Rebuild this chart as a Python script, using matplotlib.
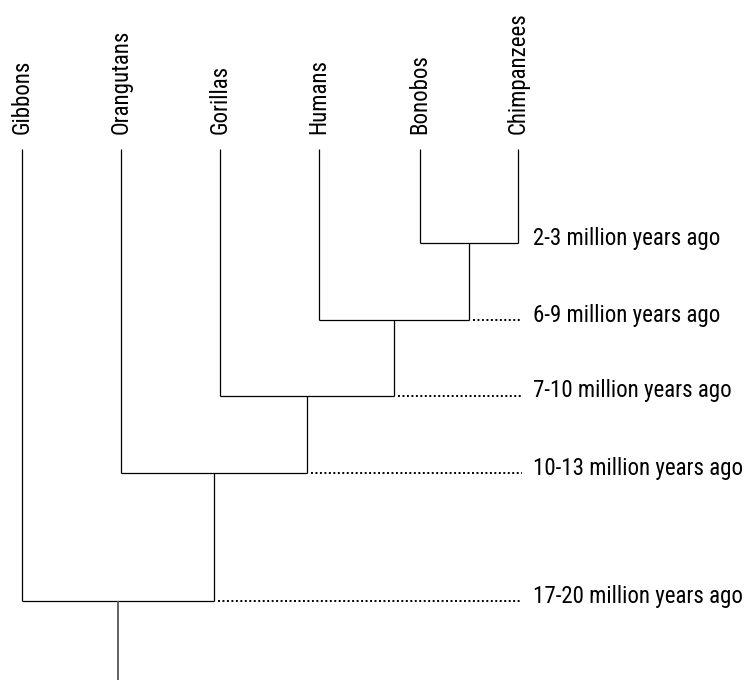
import matplotlib

matplotlib.use("Agg")
import matplotlib.pyplot as plt

# tips, left to right
species = ["Gibbons", "Orangutans", "Gorillas", "Humans", "Bonobos", "Chimpanzees"]
tip_x = [22, 121, 220, 319, 420, 518]

# joins, youngest first: Bonobos+Chimps, +Humans, +Gorillas, +Orangutans, +Gibbons
join_level = [2.43, 3.20, 3.96, 4.73, 6.01]
join_label = [
    "2-3 million years ago",
    "6-9 million years ago",
    "7-10 million years ago",
    "10-13 million years ago",
    "17-20 million years ago",
]

tip_top = 1.49
root_bottom = 6.8
label_x = 533
dot_end = 522
dot_gap = 4

FONT = ["Roboto Condensed", "DejaVu Sans"]
FS = 16.5

fig = plt.figure(figsize=(7.53, 6.8), dpi=100)
ax = fig.add_axes([0, 0, 1, 1])
ax.set_xlim(0, 753)
ax.set_ylim(6.8, 0)
ax.axis("off")

line_kw = dict(color="black", linewidth=0.9, solid_capstyle="butt")

# walk from the youngest pair outwards, remembering where each join ends
cur_x, cur_y = tip_x[5], tip_top
join_right = []
for k in range(5):
    lx = tip_x[4 - k]
    rx, ry = cur_x, cur_y
    y = join_level[k]
    ax.plot([lx, lx], [tip_top, y], **line_kw)
    ax.plot([rx, rx], [ry, y], **line_kw)
    ax.plot([lx, rx], [y, y], **line_kw)
    join_right.append(rx)
    cur_x, cur_y = (lx + rx) / 2, y

ax.plot([cur_x, cur_x], [cur_y, root_bottom], color="#555555", linewidth=1.3,
        solid_capstyle="butt")

for x, name in zip(tip_x, species):
    ax.text(x, 1.34, name, rotation=90, ha="center", va="bottom",
            fontsize=FS, family=FONT)

for k in range(5):
    y = join_level[k]
    if join_right[k] + dot_gap < dot_end - 10:
        ax.plot([join_right[k] + dot_gap, dot_end], [y, y], color="black",
                linewidth=1.4, linestyle=(0, (1, 1.3)), dash_capstyle="butt")
    ax.text(label_x, y + 0.015, join_label[k], ha="left", va="baseline",
            fontsize=FS, family=FONT)

fig.savefig("out.png", dpi=100)
